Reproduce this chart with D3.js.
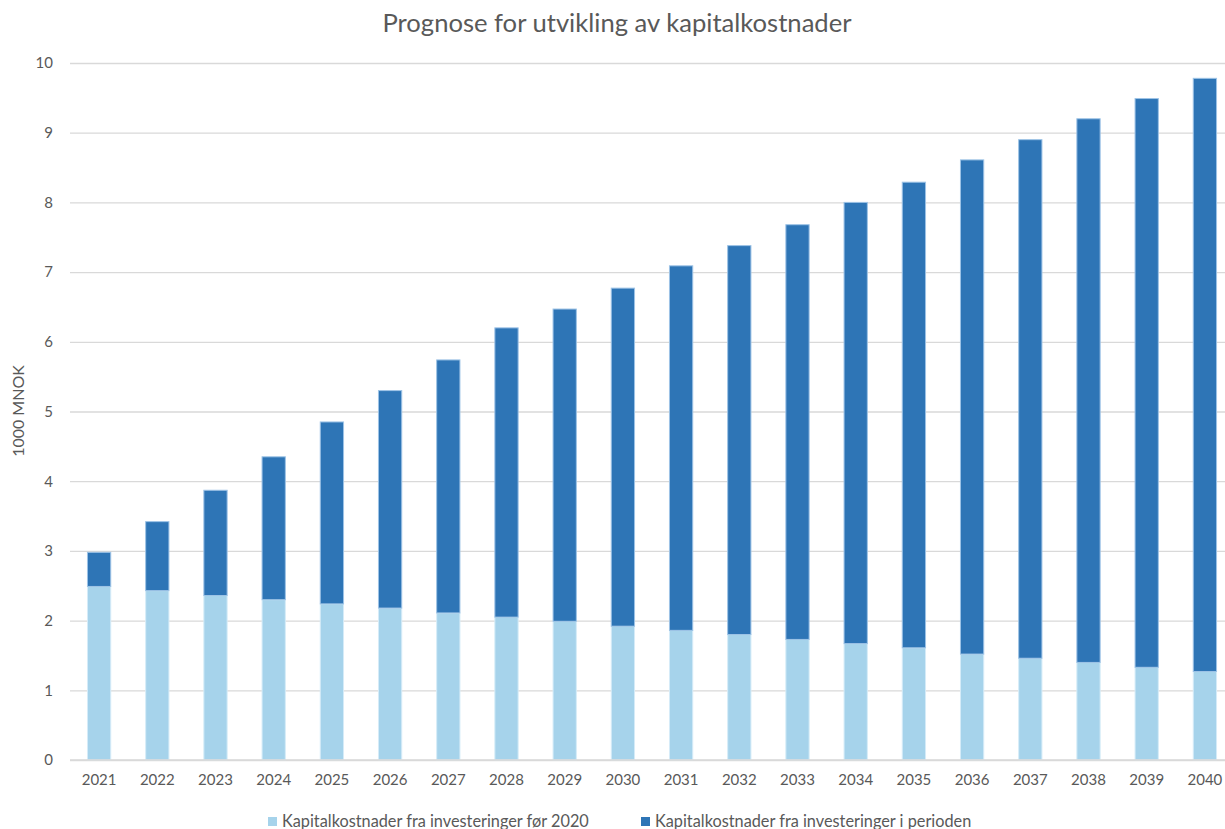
<!DOCTYPE html>
<html lang="no">
  <head>
    <meta charset="utf-8">
    <title>Prognose for utvikling av kapitalkostnader</title>
    <style>
      body { margin: 0; background: #fff; }
      svg text { font-family: Lato, "Open Sans", sans-serif; fill: #595959; }
    </style>
  </head>
  <body>
    <script src="https://cdn.jsdelivr.net/npm/d3@7"></script>
    <script>
      // data (1000 MNOK)
      var years = ["2021","2022","2023","2024","2025","2026","2027","2028","2029","2030",
                   "2031","2032","2033","2034","2035","2036","2037","2038","2039","2040"];
      var before2020 = [2.49,2.43,2.36,2.30,2.24,2.18,2.11,2.05,1.99,1.92,
                        1.86,1.80,1.73,1.67,1.61,1.52,1.46,1.40,1.33,1.27];
      var inPeriod = [0.49,0.99,1.51,2.05,2.61,3.12,3.63,4.15,4.48,4.85,
                      5.23,5.58,5.95,6.33,6.68,7.09,7.44,7.80,8.16,8.51];
      var yTicks = [0,1,2,3,4,5,6,7,8,9,10];
      var seriesNames = ["Kapitalkostnader fra investeringer før 2020",
                         "Kapitalkostnader fra investeringer i perioden"];
      var colors = ["#A6D3EB", "#2E75B6"];
      var strokes = ["#D6ECF8", "#9DC3E6"];

      var width = 1225, height = 829;
      var marginLeft = 70, marginTop = 63, marginBottom = 69;

      var table = years.map(function(y, i) {
        return {year: y, before: before2020[i], period: inPeriod[i]};
      });
      var stacked = d3.stack().keys(["before", "period"])(table);

      var x = d3.scaleBand(years, [marginLeft, 1234])
          .paddingInner(0.6).paddingOuter(0.3);
      var y = d3.scaleLinear([0, 10], [height - marginBottom, marginTop]);

      var svg = d3.select("body").append("svg")
          .attr("width", width)
          .attr("height", height)
          .attr("viewBox", [0, 0, width, height]);

      // title
      svg.append("text")
          .attr("x", 617).attr("y", 32)
          .attr("text-anchor", "middle")
          .attr("font-size", 25.6)
          .text("Prognose for utvikling av kapitalkostnader");

      // y axis + gridlines
      svg.append("g")
          .attr("transform", `translate(${marginLeft},0)`)
          .call(d3.axisLeft(y).tickValues(yTicks).tickSize(0).tickPadding(17))
          .call(g => g.select(".domain").remove())
          .call(g => g.selectAll(".tick text").attr("font-size", 15).attr("fill", "#595959"))
          .call(g => g.selectAll(".tick line").clone()
              .attr("x2", width - marginLeft)
              .attr("stroke", "#D9D9D9")
              .attr("stroke-width", 1.3));

      svg.append("text")
          .attr("transform", "translate(24,411) rotate(-90)")
          .attr("text-anchor", "middle")
          .attr("font-size", 16)
          .text("1000 MNOK");

      // bars
      svg.append("g")
        .selectAll("g")
        .data(stacked)
        .join("g")
          .attr("fill", (d, i) => colors[i])
          .attr("stroke", (d, i) => strokes[i])
          .attr("stroke-width", 1)
        .selectAll("rect")
        .data(d => d)
        .join("rect")
          .attr("x", d => x(d.data.year))
          .attr("y", d => y(d[1]))
          .attr("height", d => y(d[0]) - y(d[1]))
          .attr("width", x.bandwidth());

      // x axis
      svg.append("g")
          .attr("transform", `translate(0,${height - marginBottom})`)
          .call(d3.axisBottom(x).tickSize(0).tickPadding(14))
          .call(g => g.select(".domain").attr("stroke", "#D9D9D9").attr("stroke-width", 1.3)
              .attr("d", `M${marginLeft},0H${width}`))
          .call(g => g.selectAll(".tick text").attr("font-size", 15).attr("fill", "#595959"));

      // legend
      var legendX = [268, 641];
      var legend = svg.append("g")
        .selectAll("g")
        .data(seriesNames)
        .join("g")
          .attr("transform", (d, i) => `translate(${legendX[i]},817)`);
      legend.append("rect")
          .attr("width", 9).attr("height", 9)
          .attr("fill", (d, i) => colors[i]);
      legend.append("text")
          .attr("x", 14).attr("y", 10)
          .attr("font-size", 16.3)
          .text(d => d);
    </script>
  </body>
</html>
